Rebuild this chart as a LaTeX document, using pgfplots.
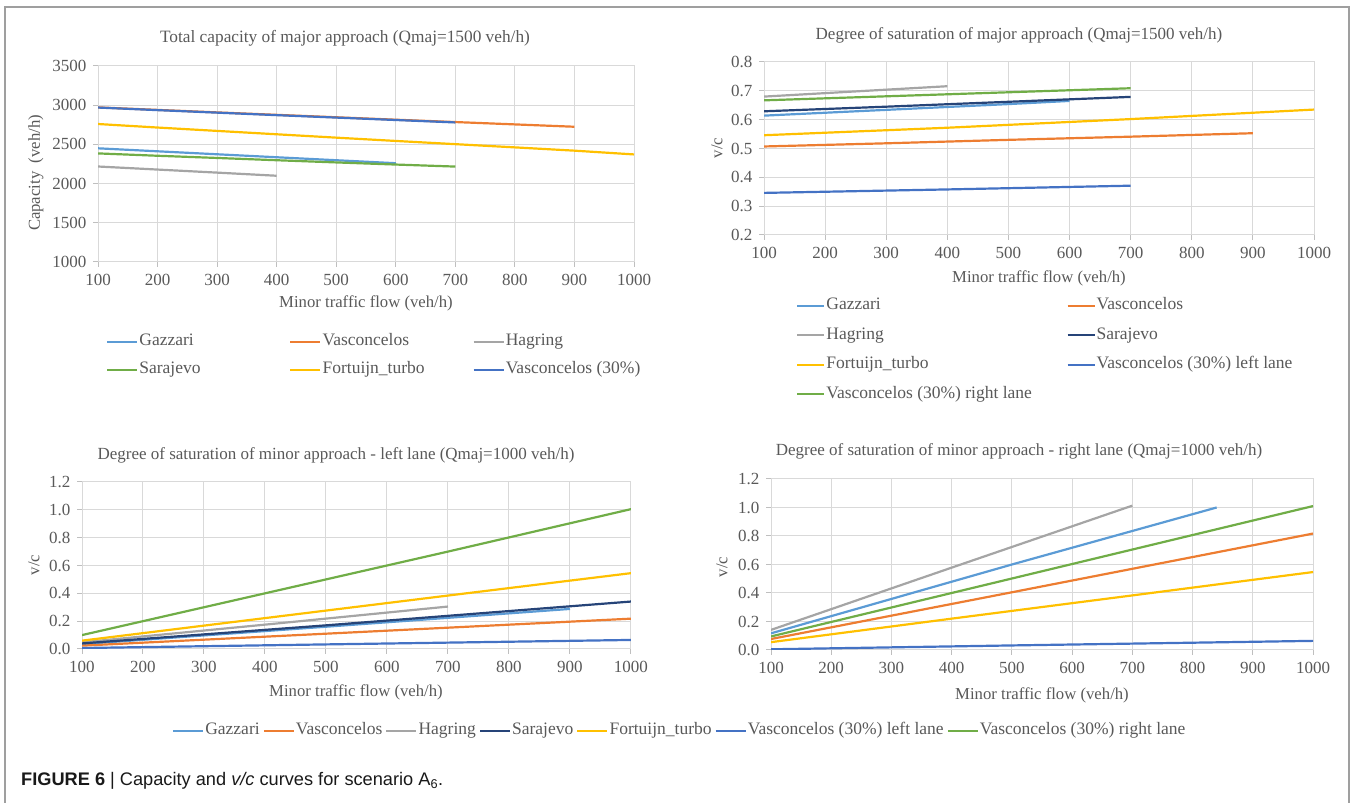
\documentclass[border=0pt]{standalone}
\usepackage{fontspec}
\setmainfont{Liberation Serif}
\setsansfont{Liberation Sans}
\usepackage{pgfplots}
\pgfplotsset{compat=1.18}
\definecolor{cA}{HTML}{5B9BD5}
\definecolor{cB}{HTML}{ED7D31}
\definecolor{cC}{HTML}{A5A5A5}
\definecolor{cD}{HTML}{FFC000}
\definecolor{cE}{HTML}{4472C4}
\definecolor{cF}{HTML}{70AD47}
\definecolor{cG}{HTML}{264478}
\definecolor{txt}{HTML}{595959}
\definecolor{grd}{HTML}{D9D9D9}
\definecolor{axl}{HTML}{BFBFBF}
\newcommand\fs[1]{\fontsize{#1}{#1}\selectfont}
\pgfplotsset{
  myax/.style={
    scale only axis,
    anchor=south west,
    xmin=100, xmax=1000,
    xtick={100,200,...,1000},
    grid=major,
    grid style={grd, line width=1pt},
    axis line style={grd, line width=1pt},
    tick align=outside,
    major tick length=5pt,
    tick style={axl, line width=1pt},
    xtick pos=left, ytick pos=left,
    /pgf/number format/assume math mode=true,
    /pgf/number format/1000 sep={},
    tick label style={font=\rmfamily\fs{17}, text=txt},
    xticklabel style={yshift=-4pt},
    yticklabel style={xshift=-3pt},
    scaled y ticks=false,
    every axis plot/.append style={line width=2.2pt, no markers},
    legend image code/.code={\draw[##1,line width=2.2pt] (0pt,0pt) -- (30pt,0pt);},
    legend cell align=left,
  },
  dec1/.style={yticklabel style={/pgf/number format/.cd, fixed, fixed zerofill, precision=1}},
}
\begin{document}
\begin{tikzpicture}
\path[use as bounding box] (0pt,0pt) rectangle (1352pt,803pt);
\draw[gray!75, line width=1.3pt] (5pt,0pt) -- (5pt,796pt) -- (1349pt,796pt) -- (1349pt,0pt);

% ---------- Top left ----------
\begin{axis}[myax, at={(98pt,541pt)}, width=536pt, height=196pt,
  ymin=1000, ymax=3500, ytick={1000,1500,...,3500},
  legend columns=3,
  legend style={draw=none, fill=none, at={(0.0149,-0.4796)}, anchor=west, inner sep=0pt,
    row sep=14pt, nodes={inner sep=0pt, text height=11pt, text depth=3pt, font=\fs{17.5}, text=txt},
    /tikz/every odd column/.append style={column sep=1pt}},
]
\addplot[cA] coordinates {(100,2450)(200,2412)(300,2374)(400,2336)(500,2298)(600,2260)};
\addlegendentry{\makebox[150pt][l]{Gazzari}}
\addplot[cB] coordinates {(100,2972)(200,2940)(300,2908)(400,2877)(500,2846)(600,2815)(700,2785)(800,2755)(900,2725)};
\addlegendentry{\makebox[150pt][l]{Vasconcelos}}
\addplot[cC] coordinates {(100,2218)(200,2179)(300,2140)(400,2100)};
\addlegendentry{\makebox[150pt][l]{Hagring}}
\addplot[cF] coordinates {(100,2385)(200,2355)(300,2327)(400,2298)(500,2270)(600,2243)(700,2217)};
\addlegendentry{\makebox[150pt][l]{Sarajevo}}
\addplot[cD] coordinates {(100,2760)(200,2715)(300,2672)(400,2629)(500,2586)(600,2544)(700,2503)(800,2462)(900,2420)(1000,2372)};
\addlegendentry{\makebox[150pt][l]{Fortuijn\_turbo}}
\addplot[cE] coordinates {(100,2970)(200,2937)(300,2905)(400,2873)(500,2842)(600,2811)(700,2780)};
\addlegendentry{\makebox[150pt][l]{Vasconcelos (30\%)}}
\end{axis}

% ---------- Top right ----------
\begin{axis}[myax, dec1, at={(764pt,568pt)}, width=550pt, height=173pt,
  ymin=0.2, ymax=0.8, ytick={0.2,0.3,...,0.8},
  legend image code/.code={\draw[#1,line width=2.2pt] (0pt,0pt) -- (27pt,0pt);},
  legend columns=2,
  legend style={draw=none, fill=none, at={(0.0582,-0.665)}, anchor=west, inner sep=0pt,
    row sep=15.5pt, nodes={inner sep=0pt, text height=11pt, text depth=3pt, font=\fs{17.5}, text=txt},
    /tikz/every odd column/.append style={column sep=1pt}},
]
\addplot[cA] coordinates {(100,0.614)(200,0.624)(300,0.634)(400,0.644)(500,0.654)(600,0.665)};
\addlegendentry{\makebox[240pt][l]{Gazzari}}
\addplot[cB] coordinates {(100,0.507)(300,0.518)(500,0.530)(700,0.541)(900,0.553)};
\addlegendentry{\makebox[240pt][l]{Vasconcelos}}
\addplot[cC] coordinates {(100,0.680)(200,0.692)(300,0.704)(400,0.716)};
\addlegendentry{\makebox[240pt][l]{Hagring}}
\addplot[cG] coordinates {(100,0.629)(300,0.645)(500,0.662)(700,0.679)};
\addlegendentry{\makebox[240pt][l]{Sarajevo}}
\addplot[cD] coordinates {(100,0.546)(400,0.572)(700,0.602)(1000,0.635)};
\addlegendentry{\makebox[240pt][l]{Fortuijn\_turbo}}
\addplot[cE] coordinates {(100,0.346)(400,0.358)(700,0.371)};
\addlegendentry{\makebox[240pt][l]{Vasconcelos (30\%) left lane}}
\addplot[cF] coordinates {(100,0.667)(400,0.688)(700,0.709)};
\addlegendentry{\makebox[240pt][l]{Vasconcelos (30\%) right lane}}
\end{axis}

% ---------- Bottom left ----------
\begin{axis}[myax, dec1, at={(82pt,154pt)}, width=549pt, height=167pt,
  ymin=0, ymax=1.2, ytick={0,0.2,...,1.2},
  legend columns=7,
  legend style={draw=none, fill=none, at={(1.087,-0.491)}, anchor=center, inner sep=0pt,
    nodes={inner sep=0pt, text height=11pt, text depth=3pt, font=\fs{17.5}, text=txt},
    /tikz/every odd column/.append style={column sep=1pt},
    /tikz/every even column/.append style={column sep=3pt}},
]
\addplot[cA] coordinates {(100,0.035)(500,0.160)(900,0.288)};
\addlegendentry{Gazzari}
\addplot[cB] coordinates {(100,0.024)(500,0.110)(1000,0.218)};
\addlegendentry{Vasconcelos}
\addplot[cC] coordinates {(100,0.048)(400,0.175)(700,0.305)};
\addlegendentry{Hagring}
\addplot[cG] coordinates {(100,0.040)(500,0.170)(1000,0.341)};
\addlegendentry{Sarajevo}
\addplot[cD] coordinates {(100,0.060)(400,0.222)(700,0.384)(1000,0.545)};
\addlegendentry{Fortuijn\_turbo}
\addplot[cE] coordinates {(100,0.007)(500,0.033)(1000,0.065)};
\addlegendentry{Vasconcelos (30\%) left lane}
\addplot[cF] coordinates {(100,0.100)(400,0.400)(700,0.700)(1000,1.005)};
\addlegendentry{Vasconcelos (30\%) right lane}
\end{axis}

% ---------- Bottom right ----------
\begin{axis}[myax, dec1, at={(771pt,153pt)}, width=542pt, height=171pt,
  ymin=0, ymax=1.2, ytick={0,0.2,...,1.2},
]
\addplot[cA] coordinates {(100,0.117)(500,0.600)(840,1.000)};
\addplot[cB] coordinates {(100,0.077)(500,0.405)(1000,0.817)};
\addplot[cC] coordinates {(100,0.141)(400,0.578)(700,1.013)};
\addplot[cD] coordinates {(100,0.055)(400,0.220)(700,0.383)(1000,0.547)};
\addplot[cE] coordinates {(100,0.005)(500,0.032)(1000,0.064)};
\addplot[cF] coordinates {(100,0.095)(400,0.400)(700,0.705)(1000,1.010)};
\end{axis}

% ---------- Titles and labels ----------
\begin{scope}[every node/.style={text=txt, font=\fs{17}}]
\node[font=\fs{17.3}] at (345pt,765pt) {Total capacity of major approach (Qmaj=1500 veh/h)};
\node at (1019pt,768pt) {Degree of saturation of major approach (Qmaj=1500 veh/h)};
\node at (336pt,348pt) {Degree of saturation of minor approach - left lane (Qmaj=1000 veh/h)};
\node at (1019pt,352pt) {Degree of saturation of minor approach - right lane (Qmaj=1000 veh/h)};
\end{scope}
\begin{scope}[every node/.style={text=txt, font=\fs{16.7}}]
\node at (366pt,500pt) {Minor traffic flow (veh/h)};
\node at (1039pt,525pt) {Minor traffic flow (veh/h)};
\node at (356pt,111pt) {Minor traffic flow (veh/h)};
\node at (1042pt,108pt) {Minor traffic flow (veh/h)};
\node[rotate=90] at (36pt,630pt) {Capacity\ \ (veh/h)};
\node[rotate=90] at (717pt,655pt) {v/c};
\node[rotate=90] at (34pt,238pt) {v/c};
\node[rotate=90] at (722pt,236pt) {v/c};
\end{scope}
\node[anchor=west, inner sep=0pt, font=\sffamily\fs{18.2}, text=black!90] at (21pt,22pt) {\textbf{FIGURE 6} | Capacity and \textit{v/c} curves for scenario A\textsubscript{6}.};
\end{tikzpicture}
\end{document}
